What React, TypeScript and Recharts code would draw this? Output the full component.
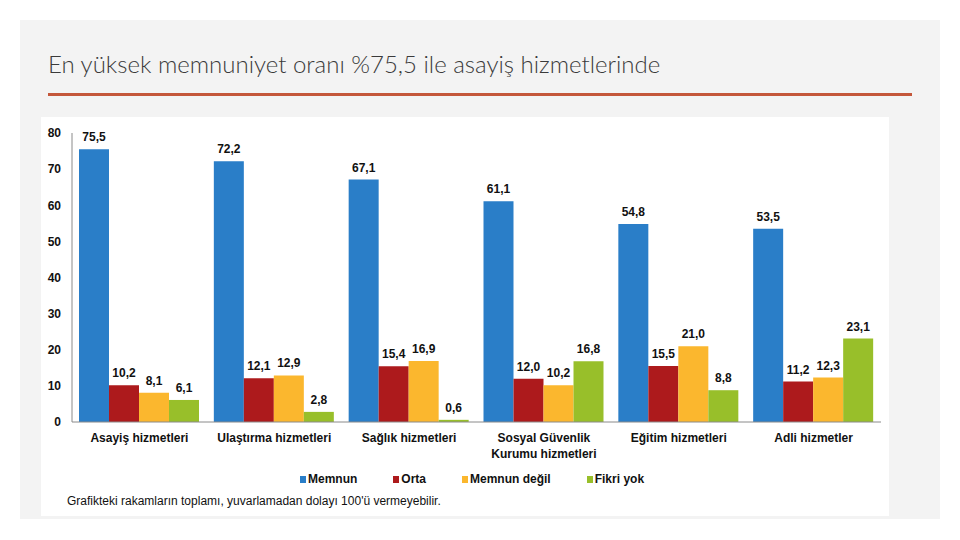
import { BarChart, Bar, XAxis, YAxis, Legend, LabelList } from "recharts";

const categories = [
  "Asayiş hizmetleri",
  "Ulaştırma hizmetleri",
  "Sağlık hizmetleri",
  "Sosyal Güvenlik\nKurumu hizmetleri",
  "Eğitim hizmetleri",
  "Adli hizmetler",
];
const memnun = [75.5, 72.2, 67.1, 61.1, 54.8, 53.5];
const orta = [10.2, 12.1, 15.4, 12.0, 15.5, 11.2];
const memnunDegil = [8.1, 12.9, 16.9, 10.2, 21.0, 12.3];
const fikriYok = [6.1, 2.8, 0.6, 16.8, 8.8, 23.1];
const yTicks = [0, 10, 20, 30, 40, 50, 60, 70, 80];

const data = categories.map((name, i) => ({
  name,
  memnun: memnun[i],
  orta: orta[i],
  memnunDegil: memnunDegil[i],
  fikriYok: fikriYok[i],
}));

const series = [
  { key: "memnun", label: "Memnun", color: "#2a7ec8" },
  { key: "orta", label: "Orta", color: "#ad1a1c" },
  { key: "memnunDegil", label: "Memnun değil", color: "#fbb72e" },
  { key: "fikriYok", label: "Fikri yok", color: "#98bf2a" },
];

const font = "'Liberation Sans', Arial, sans-serif";
const fmt = (v: any) => Number(v).toFixed(1).replace(".", ",");
const order = (name: string) => series.findIndex((s) => s.label === name);

const CatTick = ({ x, y, payload }: any) => {
  const lines = String(payload.value).split("\n");
  return (
    <text x={x} y={y} textAnchor="middle" fontFamily={font} fontSize={12} fontWeight="bold" fill="#111">
      {lines.map((l, i) => (
        <tspan key={i} x={x} dy={i === 0 ? "0.71em" : 16}>
          {l}
        </tspan>
      ))}
    </text>
  );
};

const LegendBox = ({ payload }: any) => {
  const items = [...(payload || [])].sort((a: any, b: any) => order(a.value) - order(b.value));
  return (
    <div style={{ display: "flex", fontFamily: font, fontSize: 12, fontWeight: "bold", color: "#111" }}>
      {items.map((p: any) => (
        <div key={p.value} style={{ display: "flex", alignItems: "center", marginRight: 36 }}>
          <span style={{ width: 6, height: 7, background: p.color, marginRight: 2, display: "inline-block" }} />
          {p.value}
        </div>
      ))}
    </div>
  );
};

export default function App() {
  return (
    <div style={{ position: "absolute", left: 0, top: 0, width: 960, height: 540, background: "#fff" }}>
      <div style={{ position: "absolute", left: 20, top: 20, width: 920, height: 499, background: "#f3f3f3" }} />
      <div
        style={{
          position: "absolute",
          left: 48,
          top: 49,
          fontFamily: "Lato, 'Open Sans', sans-serif",
          fontWeight: 300,
          fontSize: 24,
          color: "#3a3a3a",
          whiteSpace: "nowrap",
        }}
      >
        En yüksek memnuniyet oranı %75,5 ile asayiş hizmetlerinde
      </div>
      <div style={{ position: "absolute", left: 48, top: 93, width: 864, height: 3, background: "#c4573a" }} />
      <div style={{ position: "absolute", left: 41, top: 117, width: 848, height: 399, background: "#fff" }}>
        <BarChart
          width={848}
          height={399}
          data={data}
          margin={{ top: 16, right: 8, bottom: 64, left: 0 }}
          barCategoryGap={7}
          barGap={0}
        >
          <YAxis
            domain={[0, 80]}
            ticks={yTicks}
            width={31}
            tickLine={false}
            tickMargin={5}
            axisLine={{ stroke: "#8a8a8a" }}
            tick={{ fontFamily: font, fontSize: 12, fontWeight: "bold", fill: "#111" }}
          />
          <XAxis
            dataKey="name"
            interval={0}
            tickLine={false}
            tickMargin={5}
            axisLine={{ stroke: "#8a8a8a" }}
            tick={<CatTick />}
          />
          <Legend
            layout="horizontal"
            verticalAlign="middle"
            content={<LegendBox />}
            wrapperStyle={{ top: 355, left: 259, width: "auto" }}
          />
          {series.map((s) => (
            <Bar key={s.key} dataKey={s.key} name={s.label} fill={s.color} isAnimationActive={false}>
              <LabelList
                dataKey={s.key}
                position="top"
                offset={8}
                formatter={fmt}
                style={{ fontFamily: font, fontSize: 12, fontWeight: "bold", fill: "#111" }}
              />
            </Bar>
          ))}
        </BarChart>
      </div>
      <div
        style={{
          position: "absolute",
          left: 67,
          top: 494,
          fontFamily: font,
          fontSize: 12,
          color: "#111",
          whiteSpace: "nowrap",
        }}
      >
        Grafikteki rakamların toplamı, yuvarlamadan dolayı 100'ü vermeyebilir.
      </div>
    </div>
  );
}
